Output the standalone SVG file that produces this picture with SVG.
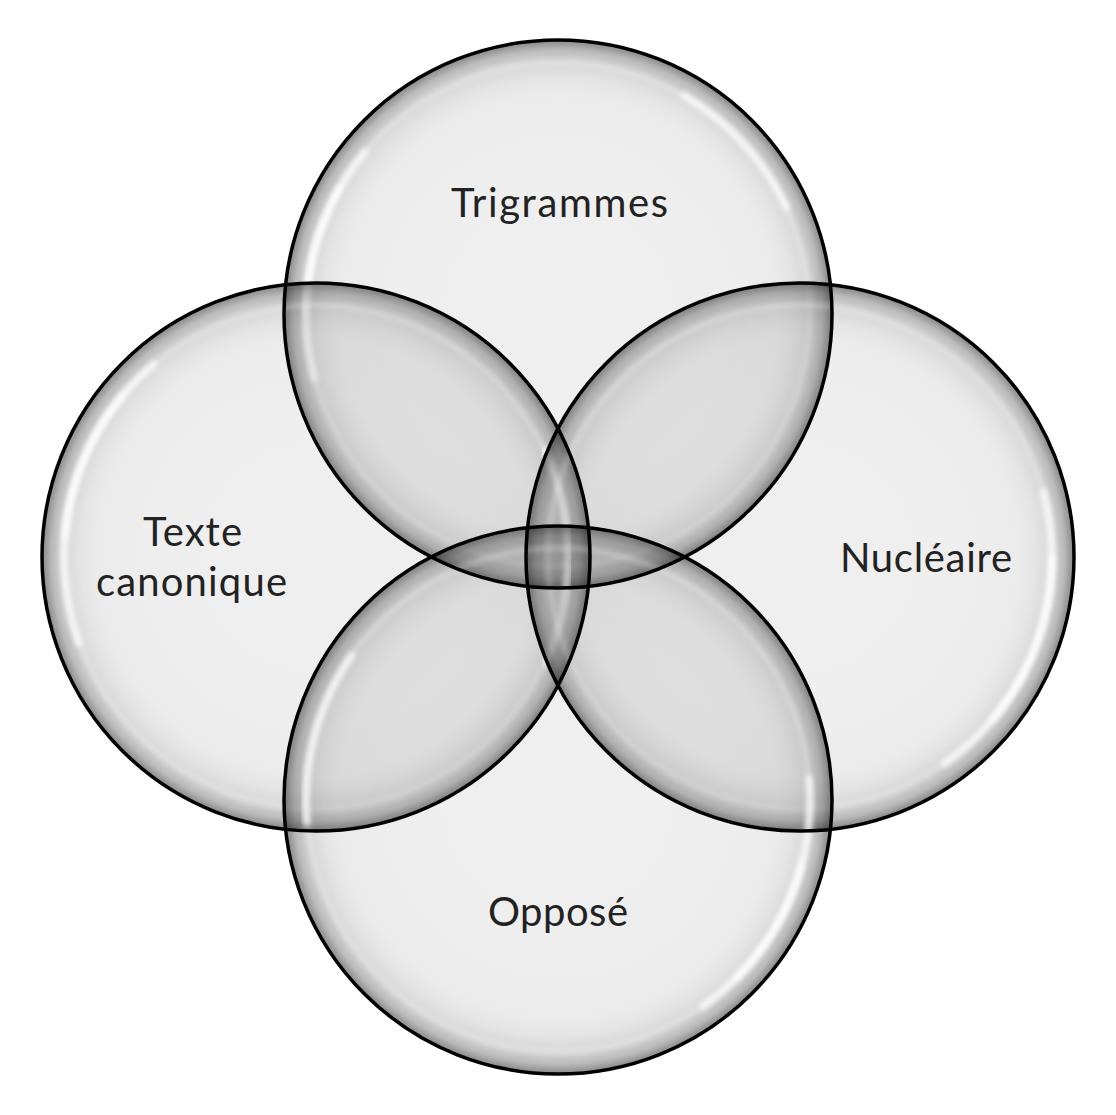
<svg xmlns="http://www.w3.org/2000/svg" width="1116" height="1115" viewBox="0 0 1116 1115">
  <defs>
    <radialGradient id="body" cx="50%" cy="50%" r="50%">
      <stop offset="0" stop-color="#000" stop-opacity="0.062"/>
      <stop offset="0.6" stop-color="#000" stop-opacity="0.066"/>
      <stop offset="0.8" stop-color="#000" stop-opacity="0.078"/>
      <stop offset="0.854" stop-color="#000" stop-opacity="0.10"/>
      <stop offset="0.92" stop-color="#000" stop-opacity="0.16"/>
      <stop offset="0.964" stop-color="#000" stop-opacity="0.27"/>
      <stop offset="1" stop-color="#000" stop-opacity="0.47"/>
    </radialGradient>
    <filter id="soft" x="-10%" y="-10%" width="120%" height="120%">
      <feGaussianBlur stdDeviation="2.5"/>
    </filter>
  </defs>
  <style>
    .body { fill: url(#body); }
    .ring { fill: none; stroke: #fff; stroke-width: 5; opacity: 0.25; filter: url(#soft); }
    .hl { fill: none; stroke: #fff; stroke-width: 7; opacity: 0.75; filter: url(#soft); stroke-linecap: round; }
    .hl2 { fill: none; stroke: #fff; stroke-width: 6; opacity: 0.7; filter: url(#soft); stroke-linecap: round; }
    .outline { fill: none; stroke: #000; stroke-width: 3.5; }
    .label { font-family: Lato, "Open Sans", "Liberation Sans", sans-serif; font-size: 40px; fill: #222; text-anchor: middle; }
  </style>
  <rect width="1116" height="1115" fill="#fff"/>

  <g id="node-trigrammes">
    <circle class="body" cx="558" cy="314" r="274"/>
    <circle class="ring" cx="558" cy="314" r="252"/>
    <path class="hl" d="M314.6,379.2 A252,252 0 0 1 364.9,152"/>
    <path class="hl2" d="M306,314 A252,252 0 0 1 339.8,188"/>
    <path class="hl" d="M684,95.8 A252,252 0 0 1 786.4,207.5"/>
    <text class="label" x="559.5" y="217" textLength="217">Trigrammes</text>
  </g>

  <g id="node-texte-canonique">
    <circle class="body" cx="316" cy="557" r="274"/>
    <circle class="ring" cx="316" cy="557" r="252"/>
    <path class="hl" d="M79.2,643.2 A252,252 0 0 1 154,364"/>
    <path class="hl2" d="M65,535 A252,252 0 0 1 122.9,395"/>
    <path class="hl" d="M544.4,450.5 A252,252 0 0 1 544.4,663.5"/>
    <text class="label" x="192.5" y="546" textLength="99">Texte</text>
    <text class="label" x="191.5" y="596" textLength="191">canonique</text>
  </g>

  <g id="node-nucleaire">
    <circle class="body" cx="800" cy="557" r="274"/>
    <circle class="ring" cx="800" cy="557" r="252"/>
    <path class="hl" d="M1043.4,491.8 A252,252 0 0 1 944.5,763.4"/>
    <path class="hl2" d="M1052,557 A252,252 0 0 1 993,719"/>
    <text class="label" x="926" y="572" textLength="172">Nucléaire</text>
  </g>

  <g id="node-oppose">
    <circle class="body" cx="558" cy="800" r="274"/>
    <circle class="ring" cx="558" cy="800" r="252"/>
    <path class="hl" d="M809,778 A252,252 0 0 1 702.5,1006.4"/>
    <path class="hl2" d="M801.4,865.2 A252,252 0 0 1 736.2,978.2"/>
    <path class="hl" d="M307,822 A252,252 0 0 1 351.6,655.5"/>
    <text class="label" x="558" y="926" textLength="140">Opposé</text>
  </g>

  <g id="outlines">
    <circle class="outline" cx="558" cy="314" r="274"/>
    <circle class="outline" cx="316" cy="557" r="274"/>
    <circle class="outline" cx="800" cy="557" r="274"/>
    <circle class="outline" cx="558" cy="800" r="274"/>
  </g>
</svg>
